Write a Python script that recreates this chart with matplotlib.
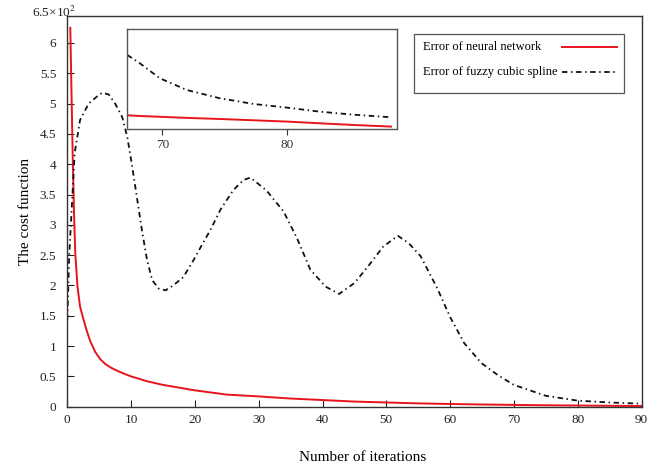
import numpy as np
import matplotlib
matplotlib.use("Agg")
import matplotlib.pyplot as plt
from matplotlib.lines import Line2D
from matplotlib.patches import Rectangle

plt.rcParams['font.family'] = ['Liberation Serif', 'DejaVu Serif']
plt.rcParams['mathtext.fontset'] = 'stix'

# error of the neural network (red)
nn_x = [0.47, 0.6, 0.84, 1.05, 1.25, 1.6, 2.0, 2.56, 3.0, 3.6, 4.4, 5.2, 6, 7, 8, 9, 10, 12.5,
        15, 20, 25, 30, 35, 40, 45, 50, 55, 60, 65, 70, 75, 80, 85, 90]
nn_y = [6.25, 5.5, 4.18, 3.2, 2.53, 1.98, 1.65, 1.43, 1.27, 1.08, 0.9, 0.78, 0.70, 0.635, 0.585,
        0.54, 0.5, 0.42, 0.36, 0.27, 0.2, 0.17, 0.135, 0.11, 0.085, 0.07, 0.055, 0.045, 0.037,
        0.03, 0.024, 0.02, 0.015, 0.012]

# error of the fuzzy cubic spline (black dash-dot)
fcs_x = [0, 0.3, 0.6, 1.15, 2.0, 3.35, 4.9, 5.5, 6.5, 7.5, 8.6, 9.4, 10.1, 10.9, 11.7,
         12.5, 13.3, 14.3, 15.4, 16.6, 18.2, 19.8, 21.1, 22.4, 24, 26, 27.6, 28.7, 31.2,
         33.9, 36, 38.1, 40.5, 42.6, 45, 47.1, 49.5, 51.8, 53.5, 55.4, 58, 60, 62.2,
         64.9, 67.5, 70, 75, 80, 85, 90]
fcs_y = [1.43, 2.5, 3.08, 4.18, 4.73, 5.0, 5.14, 5.18, 5.15, 5.0, 4.78, 4.45, 4.01, 3.46, 2.91,
         2.42, 2.09, 1.95, 1.92, 2.0, 2.14, 2.42, 2.67, 2.91, 3.25, 3.57, 3.74, 3.78, 3.57,
         3.22, 2.78, 2.26, 1.98, 1.86, 2.04, 2.31, 2.64, 2.82, 2.7, 2.48, 1.95, 1.48, 1.05,
         0.72, 0.52, 0.36, 0.18, 0.1, 0.07, 0.05]

# zoomed inset (relative scale, no y labels)
inset_x = [67.2, 68.2, 69.8, 71.95, 74.6, 77.3, 79.95, 82.6, 85.3, 88.3]
inset_fcs = [0.743, 0.66, 0.51, 0.393, 0.31, 0.253, 0.217, 0.176, 0.146, 0.12]
inset_nn = [0.14, 0.133, 0.125, 0.114, 0.103, 0.09, 0.077, 0.06, 0.043, 0.027]

x_ticks = np.arange(0, 91, 10)
y_ticks = np.arange(0, 6.01, 0.5)

red = '#e8141c'
dashdot = (0, (3, 2, 0.8, 2))

fig = plt.figure(figsize=(6.67, 4.72), dpi=100)
ax = fig.add_axes([0.1009, 0.1383, 0.8609, 0.8284])

ax.plot(nn_x, nn_y, color=red, lw=1.4)
ax.plot(fcs_x, fcs_y, color='#111111', lw=1.3, linestyle=dashdot)

ax.set_xlim(0, 90)
ax.set_ylim(0, 6.45)
ax.set_xticks(x_ticks)
ax.set_yticks(y_ticks)
ax.set_yticklabels(['%g' % v for v in y_ticks])
ax.tick_params(direction='in', length=5, width=0.8, labelsize=9.5, colors='#222222')
ax.tick_params(axis='y', pad=8)
ax.tick_params(axis='x', pad=5)
for s in ax.spines.values():
    s.set_color('#333333')
    s.set_linewidth(1.0)

ax.text(-0.024, 0.988, r'6.5×10$^2$', transform=ax.transAxes, ha='center', va='bottom',
        fontsize=9.5, color='#222222')

ax.set_xlabel('Number of iterations', fontsize=11)
ax.set_ylabel('The cost function', fontsize=11)
ax.xaxis.set_label_coords(0.514, -0.113)
ax.yaxis.set_label_coords(-0.062, 0.5)

# legend box drawn by hand: labels left, line samples right
ax.add_patch(Rectangle((0.6043, 0.8023), 0.3652, 0.1501, transform=ax.transAxes,
                       fill=True, fc='white', ec='#555555', lw=0.9, zorder=5))
ax.text(0.620, 0.9207, 'Error of neural network', transform=ax.transAxes,
        fontsize=9, va='center', ha='left', zorder=6)
ax.text(0.620, 0.8568, 'Error of fuzzy cubic spline', transform=ax.transAxes,
        fontsize=9, va='center', ha='left', zorder=6)
ax.add_line(Line2D([0.861, 0.958], [0.9207, 0.9207], transform=ax.transAxes,
                   color=red, lw=1.4, zorder=6))
ax.add_line(Line2D([0.861, 0.958], [0.8568, 0.8568], transform=ax.transAxes,
                   color='#111111', lw=1.3, linestyle=dashdot, zorder=6))

# inset
axi = fig.add_axes([0.1909, 0.7261, 0.4048, 0.2119])
axi.plot(inset_x, inset_nn, color=red, lw=1.4)
axi.plot(inset_x, inset_fcs, color='#111111', lw=1.3, linestyle=dashdot)
axi.set_xlim(67.2, 88.8)
axi.set_ylim(0, 1)
axi.set_xticks([70, 80])
axi.set_yticks([])
axi.tick_params(direction='out', length=4, width=0.8, labelsize=9.5, colors='#333333', pad=3)
for s in axi.spines.values():
    s.set_color('#555555')
    s.set_linewidth(1.0)

fig.savefig('out.png', dpi=100)
